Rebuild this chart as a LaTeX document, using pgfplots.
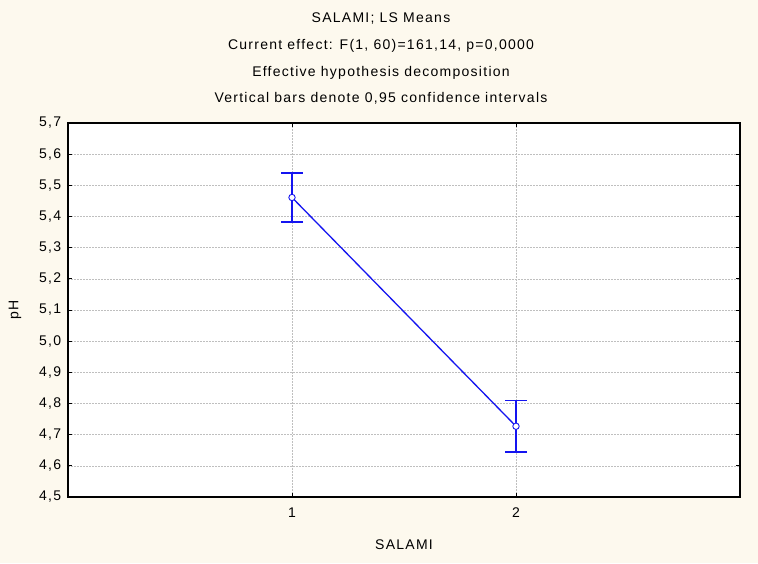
\documentclass[border=0pt]{standalone}
\usepackage{fontspec}
\setmainfont{Liberation Sans}[LetterSpace=9]
\usepackage{pgfplots}
\pgfplotsset{compat=1.18}
\definecolor{bgcream}{RGB}{253,249,238}
\definecolor{lineblue}{RGB}{20,20,240}
\newcommand{\fs}{\fontsize{14pt}{16pt}\selectfont}
\begin{document}
\fs
\begin{tikzpicture}[x=1pt,y=1pt]
\fill[bgcream] (0,0) rectangle (758,563);
\useasboundingbox (0,0) rectangle (758,563);
\node[font=\fs] at (381,544) {SALAMI; LS Means};
\node[font=\fs] at (381,517) {Current effect: F(1, 60)=161,14, p=0,0000};
\node[font=\fs] at (381,490) {Effective hypothesis decomposition};
\node[font=\fs] at (381,465) {Vertical bars denote 0,95 confidence intervals};
\node[font=\fs, rotate=90] at (15,253) {pH};
\node[font=\fs] at (404,18) {SALAMI};
\begin{axis}[
  at={(68pt,66pt)}, anchor=south west,
  scale only axis, width=672pt, height=374pt,
  xmin=0, xmax=3, ymin=4.5, ymax=5.7,
  xtick={1,2},
  ytick={4.5,4.6,4.7,4.8,4.9,5.0,5.1,5.2,5.3,5.4,5.5,5.6,5.7},
  yticklabel style={/pgf/number format/.cd, fixed, fixed zerofill, precision=1, use comma, assume math mode=true},
  xticklabel style={/pgf/number format/assume math mode=true},
  tick label style={font=\fs},
  tick align=inside, major tick length=4pt,
  tick style={black, line width=0.8pt},
  axis line style={black, line width=1.2pt},
  axis background/.style={fill=white},
  grid=major,
  major grid style={gray!50, dash pattern=on 2pt off 1pt, line width=0.5pt},
  yticklabel shift=2pt, xticklabel shift=6pt,
]
\addplot[lineblue, line width=1.3pt,
  mark=*, mark size=3.2pt, mark options={fill=white, draw=lineblue, line width=0.9pt},
  error bars/.cd, y dir=both, y explicit,
  error mark=|,
  error bar style={lineblue, line width=1.6pt},
  error mark options={lineblue, mark size=11pt, line width=1.6pt}]
coordinates {
  (1,5.461) +- (0,0.079)
  (2,4.727) +- (0,0.082)
};
\end{axis}
\end{tikzpicture}
\end{document}
